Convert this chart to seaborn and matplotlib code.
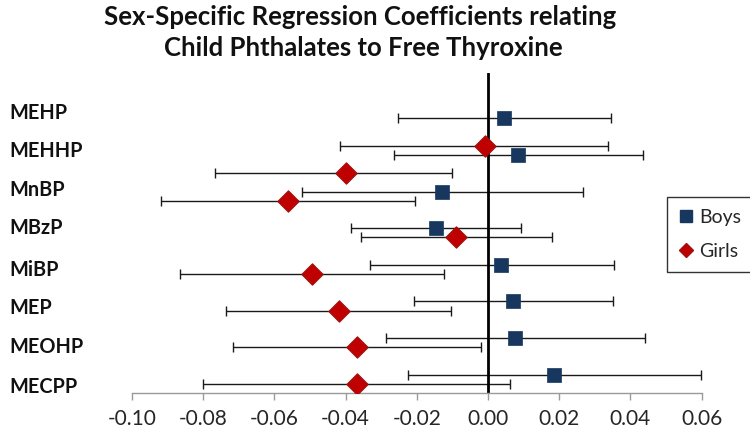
import matplotlib
matplotlib.use("Agg")
import matplotlib.pyplot as plt
from matplotlib.lines import Line2D
import seaborn as sns
import pandas as pd

# ---- data ----
compounds = ["MEHP", "MEHHP", "MnBP", "MBzP", "MiBP", "MEP", "MEOHP", "MECPP"]
boys_est = [0.0044, 0.0083, -0.0129, -0.0146, 0.0037, 0.0069, 0.0075, 0.0184]
boys_lo = [-0.0253, -0.0263, -0.0523, -0.0385, -0.0332, -0.0207, -0.0286, -0.0224]
boys_hi = [0.0344, 0.0434, 0.0268, 0.0092, 0.0355, 0.0350, 0.0441, 0.0597]
girls_est = [-0.0008, -0.0399, -0.0562, -0.0090, -0.0494, -0.0418, -0.0368, -0.0367]
girls_lo = [-0.0415, -0.0767, -0.0918, -0.0358, -0.0864, -0.0735, -0.0717, -0.0800]
girls_hi = [0.0337, -0.0102, -0.0206, 0.0180, -0.0123, -0.0105, -0.0020, 0.0061]
# vertical row positions used in the original scatter chart
boys_row = [7.5, 6.5, 5.5, 4.5, 3.5, 2.5, 1.5, 0.5]
girls_row = [6.75, 6.0, 5.25, 4.25, 3.25, 2.25, 1.25, 0.25]
x_ticks = [-0.10, -0.08, -0.06, -0.04, -0.02, 0.00, 0.02, 0.04, 0.06]
title_lines = ["Sex-Specific Regression Coefficients relating",
               "Child Phthalates to Free Thyroxine"]

boys = pd.DataFrame({"compound": compounds, "est": boys_est, "lo": boys_lo,
                     "hi": boys_hi, "row": boys_row})
girls = pd.DataFrame({"compound": compounds, "est": girls_est, "lo": girls_lo,
                      "hi": girls_hi, "row": girls_row})

sns.set_theme(style="white")
plt.rcParams["font.family"] = ["Lato", "DejaVu Sans"]

NAVY = "#17375E"
RED = "#C00000"

fig = plt.figure(figsize=(7.5, 4.36), dpi=100)
ax = fig.add_axes([132 / 750, 43 / 436, 569.7 / 750, 320 / 436])

for df in (boys, girls):
    ax.errorbar(df["est"], df["row"],
                xerr=[df["est"] - df["lo"], df["hi"] - df["est"]],
                fmt="none", ecolor="#1a1a1a", elinewidth=1.0,
                capsize=3.3, capthick=1.0, zorder=2)

ax.axvline(0, color="black", lw=2.0, zorder=2.5)

sns.scatterplot(data=boys, x="est", y="row", marker="s", s=112, color=NAVY,
                edgecolor=NAVY, linewidth=0.5, ax=ax, zorder=3, legend=False)
sns.scatterplot(data=girls, x="est", y="row", marker="D", s=118, color=RED,
                edgecolor="#A01010", linewidth=0.8, ax=ax, zorder=3, legend=False)

ax.set_xlim(-0.10, 0.06)
ax.set_ylim(0, 8.74)
ax.set_xticks(x_ticks)
ax.set_xticklabels([f"{t:.2f}" for t in x_ticks], fontsize=15, color="#262626")
ax.set_yticks([])
ax.set_xlabel("")
ax.set_ylabel("")
for s in ("left", "right", "top"):
    ax.spines[s].set_visible(False)
ax.spines["bottom"].set_color("#9a9a9a")
ax.spines["bottom"].set_linewidth(1.0)
ax.tick_params(axis="x", direction="out", length=5, width=1.0,
               color="#9a9a9a", pad=6.5, bottom=True)

# row labels at the left, as text boxes
label_px = [113, 151, 190, 228, 270, 308, 347, 387]
for name, py in zip(compounds, label_px):
    fig.text(9 / 750, 1 - py / 436, name, fontsize=14.3, fontweight="bold",
             color="#111111", ha="left", va="center")

fig.text(360 / 750, 1 - 17 / 436, title_lines[0], fontsize=18.5,
         fontweight="bold", color="#111111", ha="center", va="center")
fig.text(363 / 750, 1 - 48 / 436, title_lines[1], fontsize=18.5,
         fontweight="bold", color="#111111", ha="center", va="center")

handles = [Line2D([], [], marker="s", ls="none", color=NAVY, markersize=9),
           Line2D([], [], marker="D", ls="none", color=RED, markersize=7,
                  markeredgecolor="#A01010")]
leg = fig.legend(handles, ["Boys", "Girls"], loc="upper left",
                 bbox_to_anchor=(666.7 / 750, 1 - 197 / 436),
                 fontsize=14, frameon=True, fancybox=False, framealpha=1,
                 edgecolor="#333333", handlelength=0.8, handletextpad=0.25,
                 labelspacing=0.9, borderpad=0.6, borderaxespad=0)
leg.get_frame().set_linewidth(1.0)
for t in leg.get_texts():
    t.set_color("#262626")

fig.savefig("out.png", dpi=100, facecolor="white")
